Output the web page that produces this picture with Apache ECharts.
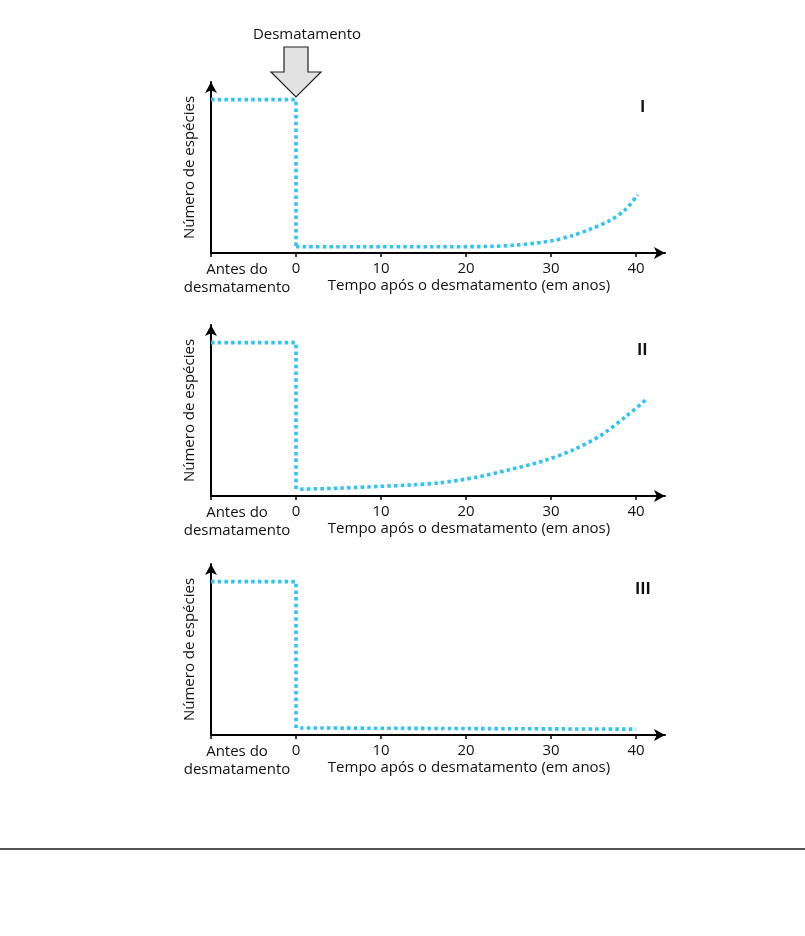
<!DOCTYPE html>
<html>
<head>
<meta charset="utf-8">
<script src="https://cdn.jsdelivr.net/npm/echarts@6/dist/echarts.min.js"></script>
<style>
  html, body { margin: 0; padding: 0; background: #fff; }
  #main { width: 805px; height: 936px; }
</style>
</head>
<body>
<div id="main"></div>
<script>
// dados (anos após o desmatamento, número relativo de espécies)
var xTicks = [0, 10, 20, 30, 40];
var tickMarks = [-10, 0, 10, 20, 30, 40];
var panelNames = ['I', 'II', 'III'];

var stepX = [-10, 0, 0];
var stepI = [100, 100, 4.1];
var stepII = [100, 100, 4.4];
var stepIII = [100, 100, 4.6];

var recovIx = [0, 8, 16, 22, 26, 29.9, 32.5, 34.6, 36.9, 38.7, 40.2];
var recovIy = [4.1, 4.1, 4.1, 4.2, 5.2, 7.8, 11.3, 15.5, 21.1, 28.1, 37.9];

var recovIIx = [0.5, 5, 9.9, 13.5, 16.9, 21.3, 25, 29.3, 32.6, 35.8, 38.9, 41.1];
var recovIIy = [4.4, 5.1, 6.3, 7.2, 8.6, 12.3, 17, 23.2, 30.1, 39.3, 52.3, 62.5];

var recovIIIx = [0.5, 20, 40];
var recovIIIy = [4.6, 4.2, 3.8];

var myChart = echarts.init(document.getElementById('main'));

var blue = '#2fc4f2';
var font = '"Open Sans", sans-serif';
var grids = [82, 325, 564];
var gridH = 171;

function pairs(xs, ys) {
    return xs.map(function (x, i) { return [x, ys[i]]; });
}

var dotted = { color: blue, width: 3.6, type: [3.5, 3.2], cap: 'butt' };

var steps = [stepI, stepII, stepIII];
var recovs = [pairs(recovIx, recovIy), pairs(recovIIx, recovIIy), pairs(recovIIIx, recovIIIy)];

var option = {
    animation: false,
    grid: [],
    xAxis: [],
    yAxis: [],
    series: [],
    graphic: []
};

grids.forEach(function (top, i) {
    option.grid.push({ left: 211, top: top, width: 454, height: gridH });
    option.xAxis.push({
        type: 'value', gridIndex: i, min: -10, max: 43.4, interval: 10,
        axisLine: { onZero: false, lineStyle: { color: '#000', width: 2 }, symbol: ['none', 'arrow'], symbolSize: [9, 11] },
        axisTick: { show: true, length: 4, lineStyle: { color: '#000', width: 1.5 }, customValues: tickMarks },
        axisLabel: { color: '#111', fontSize: 15, fontFamily: font, margin: 8, customValues: xTicks },
        splitLine: { show: false }
    });
    option.yAxis.push({
        type: 'value', gridIndex: i, min: 0, max: 111.5,
        name: 'Número de espécies', nameLocation: 'middle', nameRotate: 90, nameGap: 14,
        nameTextStyle: { color: '#111', fontSize: 15, fontFamily: font },
        axisLine: { show: true, onZero: false, lineStyle: { color: '#000', width: 2 }, symbol: ['none', 'arrow'], symbolSize: [9, 11] },
        axisTick: { show: false },
        axisLabel: { show: false },
        splitLine: { show: false }
    });
    option.series.push({
        type: 'line', xAxisIndex: i, yAxisIndex: i, showSymbol: false, silent: true,
        data: pairs(stepX, steps[i]), lineStyle: dotted
    });
    option.series.push({
        type: 'line', xAxisIndex: i, yAxisIndex: i, showSymbol: false, silent: true,
        smooth: 0.3,
        data: recovs[i], lineStyle: dotted
    });

    var base = top + gridH;
    option.graphic.push(
        { type: 'text', left: 640 - (i === 0 ? 0 : i === 1 ? 3 : 5), top: top + 17,
          style: { text: panelNames[i], font: 'bold 16px ' + font, fill: '#111' } },
        { type: 'text', x: 237, y: base + 17,
          style: { text: 'Antes do', font: '15px ' + font, fill: '#111', align: 'center', verticalAlign: 'middle' } },
        { type: 'text', x: 237, y: base + 35,
          style: { text: 'desmatamento', font: '15px ' + font, fill: '#111', align: 'center', verticalAlign: 'middle' } },
        { type: 'text', x: 469, y: base + 33,
          style: { text: 'Tempo após o desmatamento (em anos)', font: '15px ' + font, fill: '#111', align: 'center', verticalAlign: 'middle' } }
    );
});

// seta "Desmatamento" sobre o painel I
option.graphic.push(
    { type: 'text', x: 307, y: 35,
      style: { text: 'Desmatamento', font: '15px ' + font, fill: '#111', align: 'center', verticalAlign: 'middle' } },
    { type: 'polygon',
      shape: { points: [[284, 47], [308, 47], [308, 72], [321, 72], [296, 97], [271, 72], [284, 72]] },
      style: { fill: '#e2e2e2', stroke: '#222', lineWidth: 1.2 } },
    { type: 'line', shape: { x1: 0, y1: 849, x2: 805, y2: 849 },
      style: { stroke: '#555', lineWidth: 2 } }
);

myChart.setOption(option);
</script>
</body>
</html>
